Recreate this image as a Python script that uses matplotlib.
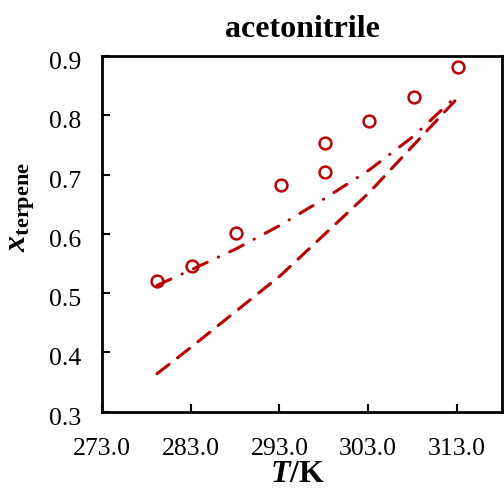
import matplotlib
matplotlib.use("Agg")
import matplotlib.pyplot as plt
from matplotlib.transforms import ScaledTranslation

plt.rcParams['font.family'] = ['Liberation Serif', 'DejaVu Serif']
plt.rcParams['mathtext.fontset'] = 'custom'
plt.rcParams['mathtext.rm'] = 'Liberation Serif'
plt.rcParams['mathtext.it'] = 'Liberation Serif:italic'
plt.rcParams['mathtext.bf'] = 'Liberation Serif:bold'
plt.rcParams['mathtext.bfit'] = 'Liberation Serif:bold:italic'

# experimental data
T_exp = [279.2, 283.15, 288.15, 293.15, 298.15, 298.15, 303.15, 308.15, 313.15]
x_exp = [0.520, 0.545, 0.602, 0.682, 0.705, 0.753, 0.791, 0.831, 0.882]

# model curves
T_model = [279.2, 283.15, 288.15, 293.15, 298.15, 303.15, 308.15, 313.15]
x_dash = [0.364, 0.410, 0.470, 0.530, 0.600, 0.670, 0.750, 0.830]
x_dashdot = [0.513, 0.540, 0.575, 0.615, 0.660, 0.708, 0.765, 0.835]

xticks = [273.0, 283.0, 293.0, 303.0, 313.0]
yticks = [0.3, 0.4, 0.5, 0.6, 0.7, 0.8, 0.9]

red = '#C00000'

fig = plt.figure(figsize=(5.04, 4.94), dpi=100)
ax = fig.add_axes([0.2024, 0.1666, 0.7936, 0.72])

ax.plot(T_model, x_dash, color=red, lw=2.2, dashes=(5, 3.5), dash_capstyle='round')
ax.plot(T_model, x_dashdot, color=red, lw=2.2, dashes=(5, 4, 0.1, 4), dash_capstyle='round')
ax.plot(T_exp, x_exp, 'o', mfc='none', mec=red, mew=1.8, ms=8.5)

ax.set_xlim(273.0, 318.1)
ax.set_ylim(0.3, 0.9)
ax.set_xticks(xticks)
ax.set_xticklabels([f'{v:.1f}' for v in xticks])
ax.set_yticks(yticks)
ax.set_yticklabels([f'{v:.1f}' for v in yticks])
ax.tick_params(direction='in', length=6, width=1.5, labelsize=18.5)
ax.tick_params(axis='y', pad=15)
ax.tick_params(axis='x', pad=19)
for s in ax.spines.values():
    s.set_linewidth(2)
off = ScaledTranslation(0, -4.5 / 100, fig.dpi_scale_trans)
for lab in ax.get_yticklabels():
    lab.set_transform(lab.get_transform() + off)

ax.set_title('acetonitrile', fontsize=23, fontweight='bold', pad=14)
ax.set_xlabel(r'$\boldsymbol{T}$/K', fontsize=23, fontweight='bold')
ax.xaxis.set_label_coords(0.49, -0.135, transform=ax.transAxes)
ax.xaxis.label.set_va('top')
ax.set_ylabel(r'$\boldsymbol{x}_{\mathbf{terpene}}$', fontsize=23)
ax.yaxis.set_label_coords(-0.2, 0.576, transform=ax.transAxes)
ax.yaxis.label.set_va('center')

fig.savefig('out.png', dpi=100)
